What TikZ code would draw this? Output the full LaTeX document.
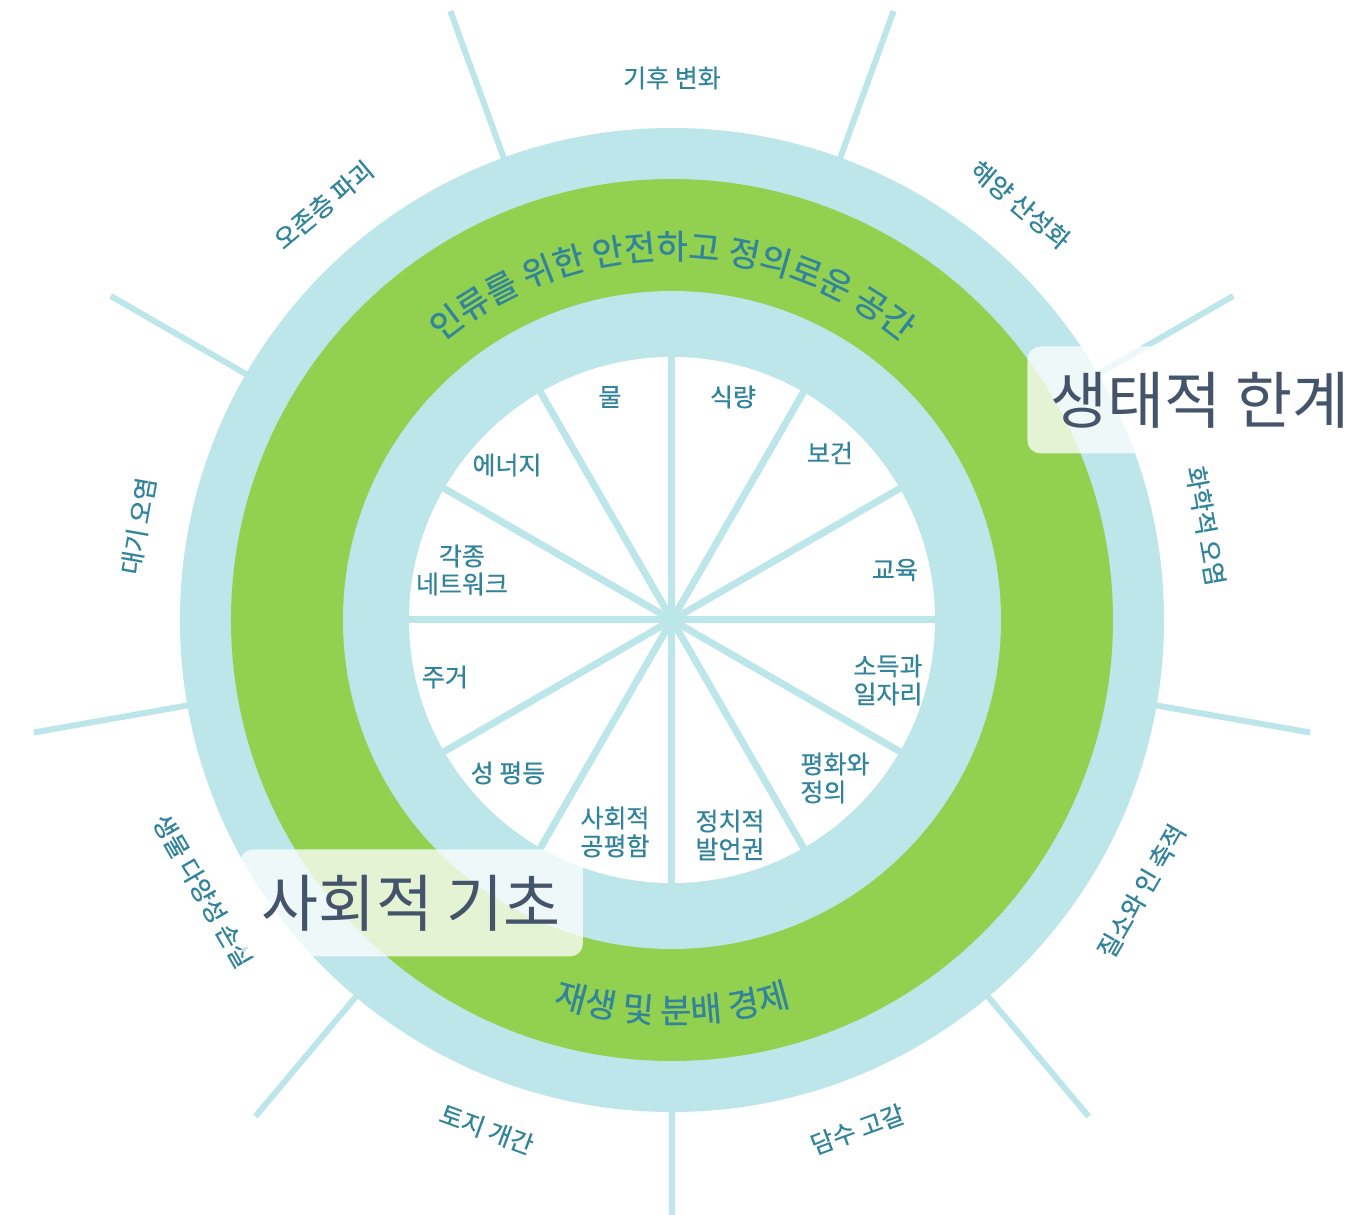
\documentclass[tikz,border=0pt]{standalone}
\usepackage{fontspec}
\setmainfont{Noto Sans CJK KR}
\newfontfamily\medfont{Noto Sans CJK KR}[FakeBold=0.6]
\usetikzlibrary{decorations.text}

\definecolor{donutblue}{HTML}{BDE6EA}
\definecolor{donutgreen}{HTML}{92D050}
\definecolor{labelteal}{HTML}{31849B}
\definecolor{titleslate}{HTML}{44546A}

\begin{document}
\begin{tikzpicture}[x=0.5pt,y=0.5pt]
	\tikzstyle{spoke}=[draw=donutblue,line width=3.5pt]
	\tikzstyle{outer spoke}=[draw=donutblue,line width=3pt]
	\tikzstyle{social}=[text=labelteal,font=\medfont\fontsize{12.5}{14}\selectfont,align=center,inner sep=0pt]
	\tikzstyle{planet}=[text=labelteal,font=\medfont\fontsize{12.5}{14}\selectfont,inner sep=0pt]
	\tikzstyle{banner}=[fill=white,fill opacity=0.75,text opacity=1,rounded corners=6.5pt,
		text=titleslate,font=\fontsize{31}{33}\selectfont,minimum height=53.5pt]
	\useasboundingbox (-672,-595) rectangle (679,620);
	\coordinate (c) at (0,0);
	% rings
	\fill[donutblue] (c) circle (492);
	\fill[donutgreen] (c) circle (441);
	\fill[donutblue] (c) circle (329);
	\fill[white] (c) circle (263);
	% spokes
	\foreach \a in {0,30,...,330}
		\draw[spoke] (c) -- (\a:268);
	\foreach \a in {-170,-130,...,150}
		\draw[outer spoke] (\a:490) -- (\a:648);
	% ring texts
	\path[decorate,decoration={text along path,text align=center,text color=labelteal,
		text={|\medfont\fontsize{17}{19}\selectfont|인류를 위한 안전하고 정의로운 공간}}]
		(150:361) arc[start angle=150,end angle=30,radius=361];
	\path[decorate,decoration={text along path,text align=center,text color=labelteal,
		text={|\medfont\fontsize{17}{19}\selectfont|재생 및 분배 경제}}]
		(-150:403) arc[start angle=-150,end angle=-30,radius=403];
	% social foundation
	\node[social] (water) at (-62,223) {물};
	\node[social] (food) at (61,223) {식량};
	\node[social] (health) at (158,167) {보건};
	\node[social] (education) at (223,50) {교육};
	\node[social] (income) at (216,-60) {소득과\\일자리};
	\node[social,align=left] (peace) at (163,-158) {평화와\\정의};
	\node[social] (voice) at (58,-215) {정치적\\발언권};
	\node[social] (equity) at (-57,-212) {사회적\\공평함};
	\node[social] (gender) at (-164,-153) {성 평등};
	\node[social] (housing) at (-227,-57) {주거};
	\node[social] (networks) at (-210,50) {각종\\네트워크};
	\node[social] (energy) at (-165,155) {에너지};
	% ecological ceiling
	\foreach \a/\r/\t [count=\i] in {90/0/기후 변화,50/-40/해양 산성화,10/-80/화학적 오염,
		-30/60/질소와 인 축적,-70/20/담수 고갈,-110/-20/토지 개간,
		-150/-60/생물 다양성 손실,170/80/대기 오염,130/40/오존층 파괴}
		\node[planet,rotate=\r] (planet\i) at (\a:542) {\t};
	% banners
	\node[banner,anchor=west,inner xsep=11.5pt] (ceiling) at (355,220) {생태적 한계};
	\node[banner,minimum width=171.5pt] (foundation) at (-260.5,-283) {사회적 기초};
\end{tikzpicture}
\end{document}
